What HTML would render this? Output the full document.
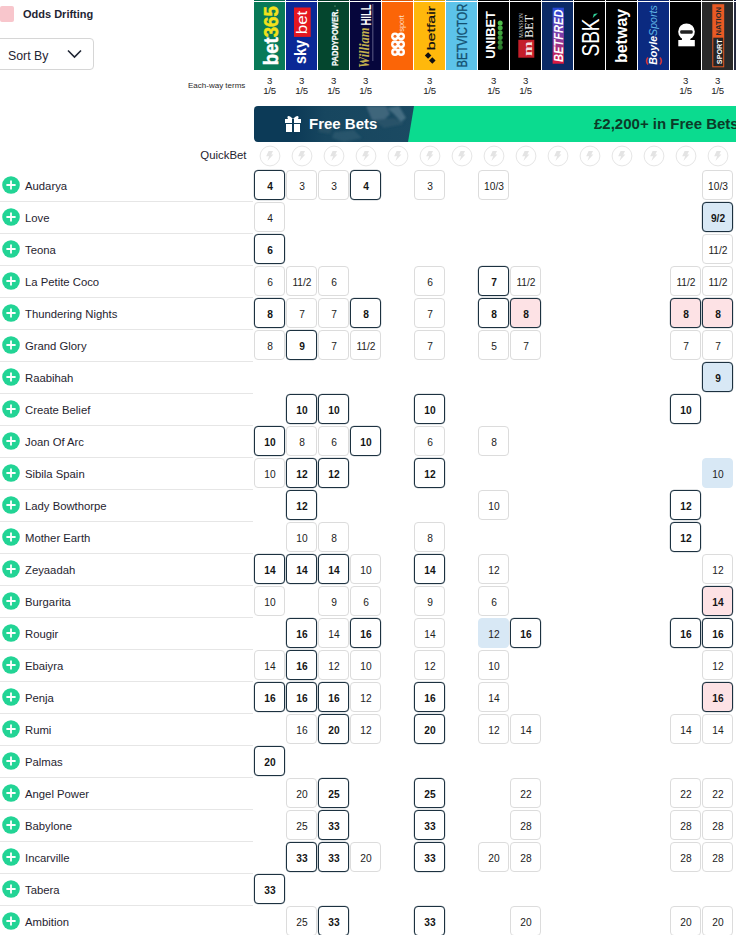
<!DOCTYPE html>
<html><head><meta charset="utf-8"><style>
html,body{margin:0;padding:0;}
body{width:736px;height:935px;overflow:hidden;position:relative;background:#fff;font-family:"Liberation Sans",sans-serif;color:#1b1f2a;}
.a{position:absolute;}
.lg{position:absolute;top:0;width:31px;height:70px;}
.c{position:absolute;width:31px;height:30px;box-sizing:border-box;border:1px solid #dcdcdc;border-radius:4px;background:#fff;font-size:10.2px;line-height:31.5px;text-align:center;color:#222;padding-left:1px;}
.c.b{border:1px solid #1c3140;box-shadow:0 0 0 0.25px rgba(28,49,64,0.5);font-weight:bold;color:#151515;}
.c.p{background:#fde2e5;}
.c.bl{background:#d8e8f5;}
.c.l{background:#d8e8f5;border-color:#d8e8f5;}
.nm{position:absolute;left:25px;font-size:11.3px;color:#1f2430;white-space:nowrap;}
.pl{position:absolute;left:2px;width:18px;height:18px;}
.sep{position:absolute;left:0;width:253px;height:1px;background:#e6e6e6;}
.ew{position:absolute;top:76px;width:31px;text-align:center;font-size:9.6px;line-height:10px;color:#222;letter-spacing:-0.2px;}
.qb{position:absolute;top:145px;}
</style></head><body>

<div class="a" style="left:0;top:6px;width:14px;height:16px;background:#f8c6cc;border-radius:2px;"></div>
<div class="a" style="left:23px;top:6px;font-size:11px;font-weight:bold;line-height:16px;color:#1f2533;">Odds Drifting</div>
<div class="a" style="left:-6px;top:38px;width:98px;height:30px;border:1px solid #d6d6d6;border-radius:4px;"></div>
<div class="a" style="left:8px;top:47.5px;font-size:12.3px;line-height:16px;color:#1f2533;">Sort By</div>
<svg class="a" style="left:66px;top:48px" width="17" height="12" viewBox="0 0 17 12"><path d="M2 2.5 L8.5 9 L15 2.5" stroke="#1f2533" stroke-width="1.6" fill="none"/></svg>
<div class="lg" style="left:254px;"><div style="height:1px;background:#056a4c"></div><div style="height:1px;background:#fff"></div><svg width="31" height="68" style="display:block"><rect width="31" height="68" fill="#087a58"/><text transform="translate(23.6,63.2) rotate(-90)" font-family="Liberation Sans" font-weight="bold" font-size="19.5" fill="#fff" stroke="#fff" stroke-width="0.5" textLength="59" lengthAdjust="spacingAndGlyphs">bet<tspan fill="#f3e21b" stroke="#f3e21b">365</tspan></text></svg></div>
<div class="lg" style="left:286px;"><div style="height:1px;background:#08227f"></div><div style="height:1px;background:#fff"></div><svg width="31" height="68" style="display:block"><rect width="31" height="68" fill="#0a2896"/><rect x="8" y="5.5" width="16.7" height="29.4" fill="#e5171f"/><text transform="translate(21.1,32.3) rotate(-90)" font-family="Liberation Sans" font-size="15" fill="#fff" textLength="23.6" lengthAdjust="spacingAndGlyphs" >bet</text><text transform="translate(20.3,62) rotate(-90)" font-family="Liberation Sans" font-size="16" fill="#fff" textLength="24" lengthAdjust="spacingAndGlyphs" font-weight="bold">sky</text></svg></div>
<div class="lg" style="left:318px;"><div style="height:1px;background:#033a26"></div><div style="height:1px;background:#fff"></div><svg width="31" height="68" style="display:block"><rect width="31" height="68" fill="#04462e"/><text transform="translate(19.6,64) rotate(-90)" font-family="Liberation Sans" font-size="8.2" fill="#fff" textLength="56.5" lengthAdjust="spacingAndGlyphs" font-weight="bold" stroke="#fff" stroke-width="0.25">PADDYPOWER.</text><circle cx="17" cy="4" r="0.6" fill="#9c9"/></svg></div>
<div class="lg" style="left:350px;"><div style="height:1px;background:#05052f"></div><div style="height:1px;background:#fff"></div><svg width="31" height="68" style="display:block"><rect width="31" height="68" fill="#06063c"/><text transform="translate(21,23.6) rotate(-90)" font-family="Liberation Sans" font-size="13.8" fill="#fff" textLength="21.3" lengthAdjust="spacingAndGlyphs" font-weight="bold">HILL</text><rect x="22.6" y="2" width="0.6" height="57" fill="#9a9ab8"/><text transform="translate(19,66) rotate(-90)" font-family="Liberation Serif" font-style="italic" font-weight="bold" font-size="14" fill="#c4b04e" textLength="40.5" lengthAdjust="spacingAndGlyphs">William</text></svg></div>
<div class="lg" style="left:382px;"><div style="height:1px;background:#d95606"></div><div style="height:1px;background:#fff"></div><svg width="31" height="68" style="display:block"><rect width="31" height="68" fill="#fb6507"/><circle cx="13" cy="34.3" r="3.9" fill="#fff"/><circle cx="13" cy="42.2" r="3.9" fill="#fff"/><circle cx="13" cy="50" r="3.9" fill="#fff"/><circle cx="19.1" cy="34.3" r="3.9" fill="#fff"/><circle cx="19.1" cy="42.2" r="3.9" fill="#fff"/><circle cx="19.1" cy="50" r="3.9" fill="#fff"/><circle cx="13" cy="34.3" r="1.5" fill="#f26f25"/><circle cx="13" cy="42.2" r="1.5" fill="#f26f25"/><circle cx="13" cy="50" r="1.5" fill="#f26f25"/><circle cx="19.1" cy="34.3" r="1.5" fill="#f26f25"/><circle cx="19.1" cy="42.2" r="1.5" fill="#f26f25"/><circle cx="19.1" cy="50" r="1.5" fill="#f26f25"/><text transform="translate(21.6,29.8) rotate(-90)" font-family="Liberation Sans" font-size="6.5" fill="#ffe3cf" textLength="16.6" lengthAdjust="spacingAndGlyphs" >sport</text></svg></div>
<div class="lg" style="left:414px;"><div style="height:1px;background:#e0a20b"></div><div style="height:1px;background:#fff"></div><svg width="31" height="68" style="display:block"><rect width="31" height="68" fill="#ffb80c"/><text transform="translate(21,48.3) rotate(-90)" font-family="Liberation Sans" font-size="11.3" fill="#111" textLength="44.4" lengthAdjust="spacingAndGlyphs" stroke="#111" stroke-width="0.2">betfair</text><rect x="11.8" y="51.2" width="4.6" height="4.6" transform="rotate(45 14.1 53.5)" fill="#111"/><rect x="16" y="56.1" width="4.6" height="4.6" transform="rotate(45 18.3 58.4)" fill="#111"/></svg></div>
<div class="lg" style="left:446px;"><div style="height:1px;background:#4fa9cf"></div><div style="height:1px;background:#fff"></div><svg width="31" height="68" style="display:block"><rect width="31" height="68" fill="#5cc3ea"/><text transform="translate(21.1,65.5) rotate(-90)" font-family="Liberation Sans" font-size="13.8" fill="#124f70" textLength="63.8" lengthAdjust="spacingAndGlyphs" stroke="#124f70" stroke-width="0.3">BETVICTOR</text></svg></div>
<div class="lg" style="left:478px;"><div style="height:1px;background:#000"></div><div style="height:1px;background:#fff"></div><svg width="31" height="68" style="display:block"><rect width="31" height="68" fill="#000"/><text transform="translate(17.4,56.8) rotate(-90)" font-family="Liberation Sans" font-size="13.3" fill="#fff" textLength="47.7" lengthAdjust="spacingAndGlyphs" font-weight="bold">UNIBET</text><circle cx="22.2" cy="21.00" r="2.5" fill="#4fbf4a"/><circle cx="22.2" cy="25.86" r="2.5" fill="#47b244"/><circle cx="22.2" cy="30.72" r="2.5" fill="#40a53e"/><circle cx="22.2" cy="35.58" r="2.5" fill="#399838"/><circle cx="22.2" cy="40.44" r="2.5" fill="#338b33"/><circle cx="22.2" cy="45.30" r="2.5" fill="#2d7e2e"/></svg></div>
<div class="lg" style="left:510px;"><div style="height:1px;background:#000"></div><div style="height:1px;background:#fff"></div><svg width="31" height="68" style="display:block"><rect width="31" height="68" fill="#000"/><text transform="translate(23,35.7) rotate(-90)" font-family="Liberation Serif" font-size="13" fill="#f2f2f2" textLength="22.7" lengthAdjust="spacingAndGlyphs">BET</text><text transform="translate(13,35.7) rotate(-90)" font-family="Liberation Serif" font-size="5.5" fill="#cfcfcf" textLength="24.4" lengthAdjust="spacingAndGlyphs">MANSION</text><rect x="8.3" y="37.8" width="16" height="17.9" fill="#c41e2a"/><text transform="translate(21.5,54) rotate(-90)" font-family="Liberation Serif" font-weight="bold" font-size="13" fill="#f4dede" textLength="14.5" lengthAdjust="spacingAndGlyphs">m</text></svg></div>
<div class="lg" style="left:542px;"><div style="height:1px;background:#0a2356"></div><div style="height:1px;background:#fff"></div><svg width="31" height="68" style="display:block"><defs><linearGradient id="bf" x1="0" y1="0" x2="0" y2="1"><stop offset="0" stop-color="#2449d8"/><stop offset="0.55" stop-color="#8a3aa0"/><stop offset="1" stop-color="#e0183c"/></linearGradient></defs><rect width="31" height="68" fill="#0b2a66"/><rect x="10.6" y="5.7" width="11.3" height="56" fill="url(#bf)"/><text transform="translate(20.6,60) rotate(-90)" font-family="Liberation Sans" font-size="12.6" fill="#fff" textLength="52.6" lengthAdjust="spacingAndGlyphs" font-weight="bold" font-style="italic">BETFRED</text></svg></div>
<div class="lg" style="left:574px;"><div style="height:1px;background:#000"></div><div style="height:1px;background:#fff"></div><svg width="31" height="68" style="display:block"><rect width="31" height="68" fill="#000"/><text transform="translate(24.8,54.6) rotate(-90)" font-family="Liberation Sans" font-size="24" fill="#fff" textLength="38.2" lengthAdjust="spacingAndGlyphs" >SBK</text><path d="M18.7 16.1 L23.9 11.3 L19.8 11.9 Z" fill="#2fd39a"/></svg></div>
<div class="lg" style="left:606px;"><div style="height:1px;background:#000"></div><div style="height:1px;background:#fff"></div><svg width="31" height="68" style="display:block"><rect width="31" height="68" fill="#000"/><text transform="translate(21,61.1) rotate(-90)" font-family="Liberation Sans" font-size="16.7" fill="#fff" textLength="54.4" lengthAdjust="spacingAndGlyphs" font-weight="bold">betway</text></svg></div>
<div class="lg" style="left:638px;"><div style="height:1px;background:#09236c"></div><div style="height:1px;background:#fff"></div><svg width="31" height="68" style="display:block"><rect width="31" height="68" fill="#0b2a80"/><path d="M10 55.5 Q7.2 59 10 62.5" fill="none" stroke="#d2363c" stroke-width="1.6"/><path d="M22 55.5 Q24.8 59 22 62.5" fill="none" stroke="#d2363c" stroke-width="1.6"/><text transform="translate(19.2,62.8) rotate(-90)" font-family="Liberation Sans" font-style="italic" font-weight="bold" font-size="10" fill="#fff" textLength="59.6" lengthAdjust="spacingAndGlyphs">Boyle<tspan fill="#5fb4e6" font-weight="normal">Sports</tspan></text></svg></div>
<div class="lg" style="left:670px;"><div style="height:1px;background:#000"></div><div style="height:1px;background:#fff"></div><svg width="31" height="68" style="display:block"><rect width="31" height="68" fill="#000"/><circle cx="16.5" cy="29.7" r="8.3" fill="#fff"/><rect x="11.9" y="35" width="8.4" height="4" fill="#fff"/><rect x="8.3" y="38" width="16.5" height="6.3" fill="#fff"/><rect x="10.2" y="28.2" width="12.5" height="3.6" rx="1.2" fill="#222"/></svg></div>
<div class="lg" style="left:702px;"><div style="height:1px;background:#222"></div><div style="height:1px;background:#fff"></div><svg width="31" height="68" style="display:block"><rect width="31" height="68" fill="#2a2a2a"/><rect x="10.3" y="2.2" width="11.9" height="63.1" fill="#e85a24"/><rect x="11.3" y="35.7" width="9.9" height="28.6" fill="#262626"/><text transform="translate(18.8,33.4) rotate(-90)" font-family="Liberation Sans" font-size="7.3" fill="#2a2a2a" textLength="28.5" lengthAdjust="spacingAndGlyphs" font-weight="bold">NATION</text><text transform="translate(19.5,62.2) rotate(-90)" font-family="Liberation Sans" font-size="8" fill="#fff" textLength="25" lengthAdjust="spacingAndGlyphs" font-weight="bold">SPORT</text></svg></div>
<div class="lg" style="left:734px;"><div style="height:1px;background:#151d42"></div><div style="height:1px;background:#fff"></div><svg width="31" height="68" style="display:block"><rect width="31" height="68" fill="#262b40"/></svg></div>
<div class="a" style="left:188px;top:81px;font-size:8px;line-height:10px;color:#2a2a2a;">Each-way terms</div>
<div class="ew" style="left:254px">3<br>1/5</div>
<div class="ew" style="left:286px">3<br>1/5</div>
<div class="ew" style="left:318px">3<br>1/5</div>
<div class="ew" style="left:350px">3<br>1/5</div>
<div class="ew" style="left:414px">3<br>1/5</div>
<div class="ew" style="left:478px">3<br>1/5</div>
<div class="ew" style="left:510px">3<br>1/5</div>
<div class="ew" style="left:670px">3<br>1/5</div>
<div class="ew" style="left:702px">3<br>1/5</div>
<svg class="a" style="left:254px;top:106px" width="482" height="36" viewBox="0 0 482 36">
<defs><clipPath id="bn"><rect width="520" height="36" rx="4"/></clipPath>
<linearGradient id="ph" x1="0" y1="0" x2="1" y2="0"><stop offset="0" stop-color="#0c3a57"/><stop offset="0.25" stop-color="#17465f"/><stop offset="1" stop-color="#1b4a62"/></linearGradient>
<filter id="bl" x="-20%" y="-20%" width="140%" height="140%"><feGaussianBlur stdDeviation="1.2"/></filter></defs>
<g clip-path="url(#bn)">
<rect width="482" height="36" fill="#0c3a57"/>
<rect x="40" width="124" height="36" fill="url(#ph)"/>
<g filter="url(#bl)" opacity="0.75">
<path d="M112 0 L132 0 L136 8 L128 16 L118 14 Z" fill="#4d7085"/>
<path d="M133 2 L145 0 L152 12 L147 16 L140 8 Z" fill="#557a8e"/>
<path d="M120 14 L140 12 L150 18 L130 22 Z" fill="#2e566c"/>
<path d="M80 26 L100 24 L108 32 L90 36 L78 32 Z" fill="#2f5a70"/>
<path d="M66 18 L80 20 L76 28 L64 26 Z" fill="#2a5268"/>
</g>
<path d="M160 0 L482 0 L482 36 L154 36 Z" fill="#0bdb8f"/>
</g>
<g fill="#fff" transform="translate(31,9)"><rect x="0" y="4" width="16" height="4"/><rect x="1" y="9" width="14" height="8"/><rect x="7" y="4" width="2" height="13" fill="#0c3a57"/><path d="M8 4 C4 -1 1 1 3 4 Z M8 4 C12 -1 15 1 13 4 Z"/></g>
<text x="55" y="23" font-family="Liberation Sans" font-weight="bold" font-size="15" fill="#fff">Free Bets</text>
<text x="340" y="22.6" font-family="Liberation Sans" font-weight="bold" font-size="15" fill="#0c3a29">£2,200+ in Free Bets</text>
</svg>
<div class="a" style="left:200.3px;top:147.5px;font-size:11.4px;line-height:14px;color:#1f2430;">QuickBet</div>
<div class="qb" style="left:259px"><svg width="22" height="22" viewBox="0 0 22 22" style="display:block"><circle cx="11" cy="11" r="9.9" fill="#fff" stroke="#e6e6e6" stroke-width="1"/><path d="M9.6 5.9 L14 5.9 L12.3 9.5 L14.4 9.5 L8.4 15.9 L10.1 11.3 L7.2 11.3 Z" fill="#e4e4e4"/></svg></div>
<div class="qb" style="left:291px"><svg width="22" height="22" viewBox="0 0 22 22" style="display:block"><circle cx="11" cy="11" r="9.9" fill="#fff" stroke="#e6e6e6" stroke-width="1"/><path d="M9.6 5.9 L14 5.9 L12.3 9.5 L14.4 9.5 L8.4 15.9 L10.1 11.3 L7.2 11.3 Z" fill="#e4e4e4"/></svg></div>
<div class="qb" style="left:323px"><svg width="22" height="22" viewBox="0 0 22 22" style="display:block"><circle cx="11" cy="11" r="9.9" fill="#fff" stroke="#e6e6e6" stroke-width="1"/><path d="M9.6 5.9 L14 5.9 L12.3 9.5 L14.4 9.5 L8.4 15.9 L10.1 11.3 L7.2 11.3 Z" fill="#e4e4e4"/></svg></div>
<div class="qb" style="left:355px"><svg width="22" height="22" viewBox="0 0 22 22" style="display:block"><circle cx="11" cy="11" r="9.9" fill="#fff" stroke="#e6e6e6" stroke-width="1"/><path d="M9.6 5.9 L14 5.9 L12.3 9.5 L14.4 9.5 L8.4 15.9 L10.1 11.3 L7.2 11.3 Z" fill="#e4e4e4"/></svg></div>
<div class="qb" style="left:387px"><svg width="22" height="22" viewBox="0 0 22 22" style="display:block"><circle cx="11" cy="11" r="9.9" fill="#fff" stroke="#e6e6e6" stroke-width="1"/><path d="M9.6 5.9 L14 5.9 L12.3 9.5 L14.4 9.5 L8.4 15.9 L10.1 11.3 L7.2 11.3 Z" fill="#e4e4e4"/></svg></div>
<div class="qb" style="left:419px"><svg width="22" height="22" viewBox="0 0 22 22" style="display:block"><circle cx="11" cy="11" r="9.9" fill="#fff" stroke="#e6e6e6" stroke-width="1"/><path d="M9.6 5.9 L14 5.9 L12.3 9.5 L14.4 9.5 L8.4 15.9 L10.1 11.3 L7.2 11.3 Z" fill="#e4e4e4"/></svg></div>
<div class="qb" style="left:451px"><svg width="22" height="22" viewBox="0 0 22 22" style="display:block"><circle cx="11" cy="11" r="9.9" fill="#fff" stroke="#e6e6e6" stroke-width="1"/><path d="M9.6 5.9 L14 5.9 L12.3 9.5 L14.4 9.5 L8.4 15.9 L10.1 11.3 L7.2 11.3 Z" fill="#e4e4e4"/></svg></div>
<div class="qb" style="left:483px"><svg width="22" height="22" viewBox="0 0 22 22" style="display:block"><circle cx="11" cy="11" r="9.9" fill="#fff" stroke="#e6e6e6" stroke-width="1"/><path d="M9.6 5.9 L14 5.9 L12.3 9.5 L14.4 9.5 L8.4 15.9 L10.1 11.3 L7.2 11.3 Z" fill="#e4e4e4"/></svg></div>
<div class="qb" style="left:515px"><svg width="22" height="22" viewBox="0 0 22 22" style="display:block"><circle cx="11" cy="11" r="9.9" fill="#fff" stroke="#e6e6e6" stroke-width="1"/><path d="M9.6 5.9 L14 5.9 L12.3 9.5 L14.4 9.5 L8.4 15.9 L10.1 11.3 L7.2 11.3 Z" fill="#e4e4e4"/></svg></div>
<div class="qb" style="left:547px"><svg width="22" height="22" viewBox="0 0 22 22" style="display:block"><circle cx="11" cy="11" r="9.9" fill="#fff" stroke="#e6e6e6" stroke-width="1"/><path d="M9.6 5.9 L14 5.9 L12.3 9.5 L14.4 9.5 L8.4 15.9 L10.1 11.3 L7.2 11.3 Z" fill="#e4e4e4"/></svg></div>
<div class="qb" style="left:579px"><svg width="22" height="22" viewBox="0 0 22 22" style="display:block"><circle cx="11" cy="11" r="9.9" fill="#fff" stroke="#e6e6e6" stroke-width="1"/><path d="M9.6 5.9 L14 5.9 L12.3 9.5 L14.4 9.5 L8.4 15.9 L10.1 11.3 L7.2 11.3 Z" fill="#e4e4e4"/></svg></div>
<div class="qb" style="left:611px"><svg width="22" height="22" viewBox="0 0 22 22" style="display:block"><circle cx="11" cy="11" r="9.9" fill="#fff" stroke="#e6e6e6" stroke-width="1"/><path d="M9.6 5.9 L14 5.9 L12.3 9.5 L14.4 9.5 L8.4 15.9 L10.1 11.3 L7.2 11.3 Z" fill="#e4e4e4"/></svg></div>
<div class="qb" style="left:643px"><svg width="22" height="22" viewBox="0 0 22 22" style="display:block"><circle cx="11" cy="11" r="9.9" fill="#fff" stroke="#e6e6e6" stroke-width="1"/><path d="M9.6 5.9 L14 5.9 L12.3 9.5 L14.4 9.5 L8.4 15.9 L10.1 11.3 L7.2 11.3 Z" fill="#e4e4e4"/></svg></div>
<div class="qb" style="left:675px"><svg width="22" height="22" viewBox="0 0 22 22" style="display:block"><circle cx="11" cy="11" r="9.9" fill="#fff" stroke="#e6e6e6" stroke-width="1"/><path d="M9.6 5.9 L14 5.9 L12.3 9.5 L14.4 9.5 L8.4 15.9 L10.1 11.3 L7.2 11.3 Z" fill="#e4e4e4"/></svg></div>
<div class="qb" style="left:707px"><svg width="22" height="22" viewBox="0 0 22 22" style="display:block"><circle cx="11" cy="11" r="9.9" fill="#fff" stroke="#e6e6e6" stroke-width="1"/><path d="M9.6 5.9 L14 5.9 L12.3 9.5 L14.4 9.5 L8.4 15.9 L10.1 11.3 L7.2 11.3 Z" fill="#e4e4e4"/></svg></div>
<div class="pl" style="top:176px"><svg width="18" height="18" viewBox="0 0 18 18"><circle cx="9" cy="9" r="8.8" fill="#22d495"/><path d="M9 4.4 V13.6 M4.4 9 H13.6" stroke="#fff" stroke-width="1.8"/></svg></div>
<div class="nm" style="top:179px;line-height:14px;">Audarya</div>
<div class="sep" style="top:201px"></div>
<div class="c b" style="left:254px;top:170px">4</div>
<div class="c" style="left:286px;top:170px">3</div>
<div class="c" style="left:318px;top:170px">3</div>
<div class="c b" style="left:350px;top:170px">4</div>
<div class="c" style="left:414px;top:170px">3</div>
<div class="c" style="left:478px;top:170px">10/3</div>
<div class="c" style="left:702px;top:170px">10/3</div>
<div class="pl" style="top:208px"><svg width="18" height="18" viewBox="0 0 18 18"><circle cx="9" cy="9" r="8.8" fill="#22d495"/><path d="M9 4.4 V13.6 M4.4 9 H13.6" stroke="#fff" stroke-width="1.8"/></svg></div>
<div class="nm" style="top:211px;line-height:14px;">Love</div>
<div class="sep" style="top:233px"></div>
<div class="c" style="left:254px;top:202px">4</div>
<div class="c b bl" style="left:702px;top:202px">9/2</div>
<div class="pl" style="top:240px"><svg width="18" height="18" viewBox="0 0 18 18"><circle cx="9" cy="9" r="8.8" fill="#22d495"/><path d="M9 4.4 V13.6 M4.4 9 H13.6" stroke="#fff" stroke-width="1.8"/></svg></div>
<div class="nm" style="top:243px;line-height:14px;">Teona</div>
<div class="sep" style="top:265px"></div>
<div class="c b" style="left:254px;top:234px">6</div>
<div class="c" style="left:702px;top:234px">11/2</div>
<div class="pl" style="top:272px"><svg width="18" height="18" viewBox="0 0 18 18"><circle cx="9" cy="9" r="8.8" fill="#22d495"/><path d="M9 4.4 V13.6 M4.4 9 H13.6" stroke="#fff" stroke-width="1.8"/></svg></div>
<div class="nm" style="top:275px;line-height:14px;">La Petite Coco</div>
<div class="sep" style="top:297px"></div>
<div class="c" style="left:254px;top:266px">6</div>
<div class="c" style="left:286px;top:266px">11/2</div>
<div class="c" style="left:318px;top:266px">6</div>
<div class="c" style="left:414px;top:266px">6</div>
<div class="c b" style="left:478px;top:266px">7</div>
<div class="c" style="left:510px;top:266px">11/2</div>
<div class="c" style="left:670px;top:266px">11/2</div>
<div class="c" style="left:702px;top:266px">11/2</div>
<div class="pl" style="top:304px"><svg width="18" height="18" viewBox="0 0 18 18"><circle cx="9" cy="9" r="8.8" fill="#22d495"/><path d="M9 4.4 V13.6 M4.4 9 H13.6" stroke="#fff" stroke-width="1.8"/></svg></div>
<div class="nm" style="top:307px;line-height:14px;">Thundering Nights</div>
<div class="sep" style="top:329px"></div>
<div class="c b" style="left:254px;top:298px">8</div>
<div class="c" style="left:286px;top:298px">7</div>
<div class="c" style="left:318px;top:298px">7</div>
<div class="c b" style="left:350px;top:298px">8</div>
<div class="c" style="left:414px;top:298px">7</div>
<div class="c b" style="left:478px;top:298px">8</div>
<div class="c b p" style="left:510px;top:298px">8</div>
<div class="c b p" style="left:670px;top:298px">8</div>
<div class="c b p" style="left:702px;top:298px">8</div>
<div class="pl" style="top:336px"><svg width="18" height="18" viewBox="0 0 18 18"><circle cx="9" cy="9" r="8.8" fill="#22d495"/><path d="M9 4.4 V13.6 M4.4 9 H13.6" stroke="#fff" stroke-width="1.8"/></svg></div>
<div class="nm" style="top:339px;line-height:14px;">Grand Glory</div>
<div class="sep" style="top:361px"></div>
<div class="c" style="left:254px;top:330px">8</div>
<div class="c b" style="left:286px;top:330px">9</div>
<div class="c" style="left:318px;top:330px">7</div>
<div class="c" style="left:350px;top:330px">11/2</div>
<div class="c" style="left:414px;top:330px">7</div>
<div class="c" style="left:478px;top:330px">5</div>
<div class="c" style="left:510px;top:330px">7</div>
<div class="c" style="left:670px;top:330px">7</div>
<div class="c" style="left:702px;top:330px">7</div>
<div class="pl" style="top:368px"><svg width="18" height="18" viewBox="0 0 18 18"><circle cx="9" cy="9" r="8.8" fill="#22d495"/><path d="M9 4.4 V13.6 M4.4 9 H13.6" stroke="#fff" stroke-width="1.8"/></svg></div>
<div class="nm" style="top:371px;line-height:14px;">Raabihah</div>
<div class="sep" style="top:393px"></div>
<div class="c b bl" style="left:702px;top:362px">9</div>
<div class="pl" style="top:400px"><svg width="18" height="18" viewBox="0 0 18 18"><circle cx="9" cy="9" r="8.8" fill="#22d495"/><path d="M9 4.4 V13.6 M4.4 9 H13.6" stroke="#fff" stroke-width="1.8"/></svg></div>
<div class="nm" style="top:403px;line-height:14px;">Create Belief</div>
<div class="sep" style="top:425px"></div>
<div class="c b" style="left:286px;top:394px">10</div>
<div class="c b" style="left:318px;top:394px">10</div>
<div class="c b" style="left:414px;top:394px">10</div>
<div class="c b" style="left:670px;top:394px">10</div>
<div class="pl" style="top:432px"><svg width="18" height="18" viewBox="0 0 18 18"><circle cx="9" cy="9" r="8.8" fill="#22d495"/><path d="M9 4.4 V13.6 M4.4 9 H13.6" stroke="#fff" stroke-width="1.8"/></svg></div>
<div class="nm" style="top:435px;line-height:14px;">Joan Of Arc</div>
<div class="sep" style="top:457px"></div>
<div class="c b" style="left:254px;top:426px">10</div>
<div class="c" style="left:286px;top:426px">8</div>
<div class="c" style="left:318px;top:426px">6</div>
<div class="c b" style="left:350px;top:426px">10</div>
<div class="c" style="left:414px;top:426px">6</div>
<div class="c" style="left:478px;top:426px">8</div>
<div class="pl" style="top:464px"><svg width="18" height="18" viewBox="0 0 18 18"><circle cx="9" cy="9" r="8.8" fill="#22d495"/><path d="M9 4.4 V13.6 M4.4 9 H13.6" stroke="#fff" stroke-width="1.8"/></svg></div>
<div class="nm" style="top:467px;line-height:14px;">Sibila Spain</div>
<div class="sep" style="top:489px"></div>
<div class="c" style="left:254px;top:458px">10</div>
<div class="c b" style="left:286px;top:458px">12</div>
<div class="c b" style="left:318px;top:458px">12</div>
<div class="c b" style="left:414px;top:458px">12</div>
<div class="c l" style="left:702px;top:458px">10</div>
<div class="pl" style="top:496px"><svg width="18" height="18" viewBox="0 0 18 18"><circle cx="9" cy="9" r="8.8" fill="#22d495"/><path d="M9 4.4 V13.6 M4.4 9 H13.6" stroke="#fff" stroke-width="1.8"/></svg></div>
<div class="nm" style="top:499px;line-height:14px;">Lady Bowthorpe</div>
<div class="sep" style="top:521px"></div>
<div class="c b" style="left:286px;top:490px">12</div>
<div class="c" style="left:478px;top:490px">10</div>
<div class="c b" style="left:670px;top:490px">12</div>
<div class="pl" style="top:528px"><svg width="18" height="18" viewBox="0 0 18 18"><circle cx="9" cy="9" r="8.8" fill="#22d495"/><path d="M9 4.4 V13.6 M4.4 9 H13.6" stroke="#fff" stroke-width="1.8"/></svg></div>
<div class="nm" style="top:531px;line-height:14px;">Mother Earth</div>
<div class="sep" style="top:553px"></div>
<div class="c" style="left:286px;top:522px">10</div>
<div class="c" style="left:318px;top:522px">8</div>
<div class="c" style="left:414px;top:522px">8</div>
<div class="c b" style="left:670px;top:522px">12</div>
<div class="pl" style="top:560px"><svg width="18" height="18" viewBox="0 0 18 18"><circle cx="9" cy="9" r="8.8" fill="#22d495"/><path d="M9 4.4 V13.6 M4.4 9 H13.6" stroke="#fff" stroke-width="1.8"/></svg></div>
<div class="nm" style="top:563px;line-height:14px;">Zeyaadah</div>
<div class="sep" style="top:585px"></div>
<div class="c b" style="left:254px;top:554px">14</div>
<div class="c b" style="left:286px;top:554px">14</div>
<div class="c b" style="left:318px;top:554px">14</div>
<div class="c" style="left:350px;top:554px">10</div>
<div class="c b" style="left:414px;top:554px">14</div>
<div class="c" style="left:478px;top:554px">12</div>
<div class="c" style="left:702px;top:554px">12</div>
<div class="pl" style="top:592px"><svg width="18" height="18" viewBox="0 0 18 18"><circle cx="9" cy="9" r="8.8" fill="#22d495"/><path d="M9 4.4 V13.6 M4.4 9 H13.6" stroke="#fff" stroke-width="1.8"/></svg></div>
<div class="nm" style="top:595px;line-height:14px;">Burgarita</div>
<div class="sep" style="top:617px"></div>
<div class="c" style="left:254px;top:586px">10</div>
<div class="c" style="left:318px;top:586px">9</div>
<div class="c" style="left:350px;top:586px">6</div>
<div class="c" style="left:414px;top:586px">9</div>
<div class="c" style="left:478px;top:586px">6</div>
<div class="c b p" style="left:702px;top:586px">14</div>
<div class="pl" style="top:624px"><svg width="18" height="18" viewBox="0 0 18 18"><circle cx="9" cy="9" r="8.8" fill="#22d495"/><path d="M9 4.4 V13.6 M4.4 9 H13.6" stroke="#fff" stroke-width="1.8"/></svg></div>
<div class="nm" style="top:627px;line-height:14px;">Rougir</div>
<div class="sep" style="top:649px"></div>
<div class="c b" style="left:286px;top:618px">16</div>
<div class="c" style="left:318px;top:618px">14</div>
<div class="c b" style="left:350px;top:618px">16</div>
<div class="c" style="left:414px;top:618px">14</div>
<div class="c l" style="left:478px;top:618px">12</div>
<div class="c b" style="left:510px;top:618px">16</div>
<div class="c b" style="left:670px;top:618px">16</div>
<div class="c b" style="left:702px;top:618px">16</div>
<div class="pl" style="top:656px"><svg width="18" height="18" viewBox="0 0 18 18"><circle cx="9" cy="9" r="8.8" fill="#22d495"/><path d="M9 4.4 V13.6 M4.4 9 H13.6" stroke="#fff" stroke-width="1.8"/></svg></div>
<div class="nm" style="top:659px;line-height:14px;">Ebaiyra</div>
<div class="sep" style="top:681px"></div>
<div class="c" style="left:254px;top:650px">14</div>
<div class="c b" style="left:286px;top:650px">16</div>
<div class="c" style="left:318px;top:650px">12</div>
<div class="c" style="left:350px;top:650px">10</div>
<div class="c" style="left:414px;top:650px">12</div>
<div class="c" style="left:478px;top:650px">10</div>
<div class="c" style="left:702px;top:650px">12</div>
<div class="pl" style="top:688px"><svg width="18" height="18" viewBox="0 0 18 18"><circle cx="9" cy="9" r="8.8" fill="#22d495"/><path d="M9 4.4 V13.6 M4.4 9 H13.6" stroke="#fff" stroke-width="1.8"/></svg></div>
<div class="nm" style="top:691px;line-height:14px;">Penja</div>
<div class="sep" style="top:713px"></div>
<div class="c b" style="left:254px;top:682px">16</div>
<div class="c b" style="left:286px;top:682px">16</div>
<div class="c b" style="left:318px;top:682px">16</div>
<div class="c" style="left:350px;top:682px">12</div>
<div class="c b" style="left:414px;top:682px">16</div>
<div class="c" style="left:478px;top:682px">14</div>
<div class="c b p" style="left:702px;top:682px">16</div>
<div class="pl" style="top:720px"><svg width="18" height="18" viewBox="0 0 18 18"><circle cx="9" cy="9" r="8.8" fill="#22d495"/><path d="M9 4.4 V13.6 M4.4 9 H13.6" stroke="#fff" stroke-width="1.8"/></svg></div>
<div class="nm" style="top:723px;line-height:14px;">Rumi</div>
<div class="sep" style="top:745px"></div>
<div class="c" style="left:286px;top:714px">16</div>
<div class="c b" style="left:318px;top:714px">20</div>
<div class="c" style="left:350px;top:714px">12</div>
<div class="c b" style="left:414px;top:714px">20</div>
<div class="c" style="left:478px;top:714px">12</div>
<div class="c" style="left:510px;top:714px">14</div>
<div class="c" style="left:670px;top:714px">14</div>
<div class="c" style="left:702px;top:714px">14</div>
<div class="pl" style="top:752px"><svg width="18" height="18" viewBox="0 0 18 18"><circle cx="9" cy="9" r="8.8" fill="#22d495"/><path d="M9 4.4 V13.6 M4.4 9 H13.6" stroke="#fff" stroke-width="1.8"/></svg></div>
<div class="nm" style="top:755px;line-height:14px;">Palmas</div>
<div class="sep" style="top:777px"></div>
<div class="c b" style="left:254px;top:746px">20</div>
<div class="pl" style="top:784px"><svg width="18" height="18" viewBox="0 0 18 18"><circle cx="9" cy="9" r="8.8" fill="#22d495"/><path d="M9 4.4 V13.6 M4.4 9 H13.6" stroke="#fff" stroke-width="1.8"/></svg></div>
<div class="nm" style="top:787px;line-height:14px;">Angel Power</div>
<div class="sep" style="top:809px"></div>
<div class="c" style="left:286px;top:778px">20</div>
<div class="c b" style="left:318px;top:778px">25</div>
<div class="c b" style="left:414px;top:778px">25</div>
<div class="c" style="left:510px;top:778px">22</div>
<div class="c" style="left:670px;top:778px">22</div>
<div class="c" style="left:702px;top:778px">22</div>
<div class="pl" style="top:816px"><svg width="18" height="18" viewBox="0 0 18 18"><circle cx="9" cy="9" r="8.8" fill="#22d495"/><path d="M9 4.4 V13.6 M4.4 9 H13.6" stroke="#fff" stroke-width="1.8"/></svg></div>
<div class="nm" style="top:819px;line-height:14px;">Babylone</div>
<div class="sep" style="top:841px"></div>
<div class="c" style="left:286px;top:810px">25</div>
<div class="c b" style="left:318px;top:810px">33</div>
<div class="c b" style="left:414px;top:810px">33</div>
<div class="c" style="left:510px;top:810px">28</div>
<div class="c" style="left:670px;top:810px">28</div>
<div class="c" style="left:702px;top:810px">28</div>
<div class="pl" style="top:848px"><svg width="18" height="18" viewBox="0 0 18 18"><circle cx="9" cy="9" r="8.8" fill="#22d495"/><path d="M9 4.4 V13.6 M4.4 9 H13.6" stroke="#fff" stroke-width="1.8"/></svg></div>
<div class="nm" style="top:851px;line-height:14px;">Incarville</div>
<div class="sep" style="top:873px"></div>
<div class="c b" style="left:286px;top:842px">33</div>
<div class="c b" style="left:318px;top:842px">33</div>
<div class="c" style="left:350px;top:842px">20</div>
<div class="c b" style="left:414px;top:842px">33</div>
<div class="c" style="left:478px;top:842px">20</div>
<div class="c" style="left:510px;top:842px">28</div>
<div class="c" style="left:670px;top:842px">28</div>
<div class="c" style="left:702px;top:842px">28</div>
<div class="pl" style="top:880px"><svg width="18" height="18" viewBox="0 0 18 18"><circle cx="9" cy="9" r="8.8" fill="#22d495"/><path d="M9 4.4 V13.6 M4.4 9 H13.6" stroke="#fff" stroke-width="1.8"/></svg></div>
<div class="nm" style="top:883px;line-height:14px;">Tabera</div>
<div class="sep" style="top:905px"></div>
<div class="c b" style="left:254px;top:874px">33</div>
<div class="pl" style="top:912px"><svg width="18" height="18" viewBox="0 0 18 18"><circle cx="9" cy="9" r="8.8" fill="#22d495"/><path d="M9 4.4 V13.6 M4.4 9 H13.6" stroke="#fff" stroke-width="1.8"/></svg></div>
<div class="nm" style="top:915px;line-height:14px;">Ambition</div>
<div class="sep" style="top:937px"></div>
<div class="c" style="left:286px;top:906px">25</div>
<div class="c b" style="left:318px;top:906px">33</div>
<div class="c b" style="left:414px;top:906px">33</div>
<div class="c" style="left:510px;top:906px">20</div>
<div class="c" style="left:670px;top:906px">20</div>
<div class="c" style="left:702px;top:906px">20</div>
</body></html>
